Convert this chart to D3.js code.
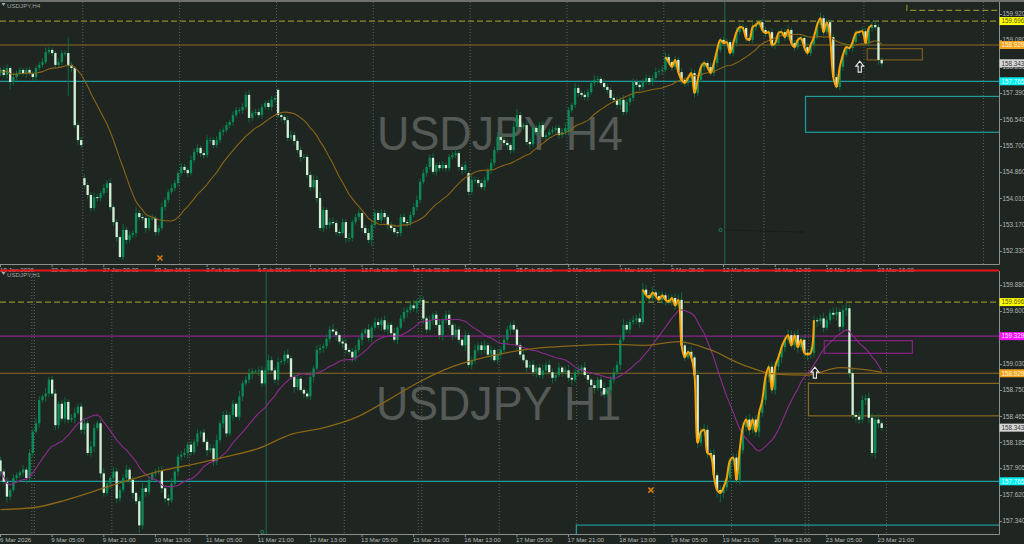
<!DOCTYPE html>
<html><head><meta charset="utf-8">
<script src="https://cdn.jsdelivr.net/npm/d3@7/dist/d3.min.js"></script>
<style>
html,body{margin:0;padding:0;background:#1f2622;overflow:hidden}
svg{display:block;font-family:"Liberation Sans",Arial,sans-serif}
</style></head><body>
<svg id="chart" width="1024" height="544"></svg>
<script>
// ---------------- DATA ----------------
// H4 panel closes (bar 0 = 19 Jan 2026 16:00 ... bar 273 = 23 Mar 20:00)
const topClose = [
158.13,157.97,158.19,157.74,157.90,158.03,158.13,158.03,158.13,158.03,
157.90,158.19,158.29,158.38,158.70,158.77,158.67,158.29,158.38,158.67,
158.67,158.29,158.19,156.36,155.88,155.72,154.44,154.12,153.70,154.05,
154.02,154.18,154.34,154.50,153.73,153.25,152.77,152.13,153.00,152.68,
152.84,152.90,153.54,153.41,153.38,153.06,153.38,153.38,152.93,153.06,
153.73,153.96,154.22,154.34,154.50,154.82,155.02,154.92,154.82,155.24,
155.50,155.63,155.46,155.40,155.88,155.88,155.72,155.88,156.14,156.20,
156.36,156.46,156.68,156.84,156.84,156.94,157.33,156.59,156.75,156.78,
156.68,156.94,157.07,156.94,157.17,157.23,156.68,156.62,156.52,155.95,
156.04,155.85,155.56,155.34,155.34,154.76,154.37,154.60,154.02,153.06,
153.64,153.16,153.25,153.22,152.93,152.90,153.25,152.74,152.74,153.25,
153.41,153.54,153.06,152.90,152.68,153.16,153.54,153.32,153.54,153.41,
153.16,153.06,152.93,152.90,153.41,153.25,153.22,153.48,153.73,153.96,
154.54,154.82,155.02,155.31,154.86,155.08,154.98,155.08,154.98,155.34,
155.40,155.46,155.02,154.92,155.08,154.22,154.60,154.60,154.50,154.37,
154.60,154.92,155.15,155.56,155.98,155.88,155.79,155.72,155.56,156.30,
156.68,156.30,156.36,155.82,155.75,156.27,156.14,156.36,155.98,156.04,
156.14,156.20,156.27,156.04,156.14,156.27,156.84,157.01,157.55,157.39,
157.33,157.26,157.42,157.71,157.81,157.84,157.71,157.58,157.49,157.23,
157.17,157.01,157.17,156.78,157.10,157.23,157.74,157.65,157.58,157.74,
157.87,157.74,157.87,158.06,158.09,158.13,158.54,158.38,158.22,158.45,
158.06,157.81,157.71,157.87,158.03,157.39,157.81,158.22,158.35,158.22,
158.03,158.35,158.77,159.09,158.99,159.02,158.67,158.99,159.34,159.50,
159.47,159.15,159.09,159.50,159.57,159.66,159.41,159.31,159.34,158.93,
158.99,159.31,159.34,159.18,159.41,158.99,158.86,159.09,159.15,158.86,
158.67,158.93,159.18,159.57,159.79,159.34,159.66,159.18,157.90,157.58,
158.22,158.61,158.86,158.83,159.02,159.31,159.34,159.37,158.99,159.47,
159.57,159.50,158.45,158.34];
// wick lengths, in pips (0.01)
const topUpWick = [
8,10,12,6,15,8,10,6,8,10, 6,8,10,12,15,10,8,6,12,10, 8,50,10,6,8,10,12,8,10,15,
10,8,12,10,15,8,10,6,20,10, 12,8,20,10,12,8,10,12,8,10, 15,10,8,12,10,8,12,10,8,15,
10,12,8,10,15,10,8,12,10,8, 10,8,12,10,8,12,10,15,8,10, 12,10,8,10,12,8,6,10,8,12,
15,10,8,12,10,8,10,15,12,20, 10,8,12,15,10,8,12,10,15,8, 10,12,8,10,15,12,10,8,12,10,
8,10,12,8,10,12,8,10,12,15, 10,12,8,10,15,8,10,12,8,10, 12,15,8,10,12,6,15,10,8,12,
10,8,12,10,15,8,10,12,8,15, 20,10,8,12,10,15,8,10,12,8, 10,12,8,10,12,15,10,8,15,10,
8,12,10,8,15,10,8,12,10,8, 12,10,8,15,10,8,12,10,8,10, 12,8,10,15,8,12,15,10,8,12,
10,12,8,10,15,10,8,12,10,8, 12,10,15,8,10,12,8,10,15,12, 10,8,12,15,10,8,12,10,8,12,
10,8,12,10,15,8,10,12,8,10, 12,10,15,12,18,10,12,8,10,12, 10,8,12,10,15,10,8,12,10,8,
12,15,10,8];
const topLoWick = [
10,8,12,25,10,12,8,10,15,8, 12,10,8,10,6,8,10,12,8,10, 10,100,12,8,15,10,8,12,10,8,
12,10,8,15,10,12,15,5,10,12, 8,10,12,10,8,15,10,8,12,10, 8,12,10,8,10,12,8,10,12,8,
10,8,12,10,8,12,10,8,10,12, 8,10,12,8,10,12,8,15,10,8, 10,12,8,10,12,8,10,15,12,10,
8,12,10,15,8,10,12,8,15,10, 12,15,10,8,12,10,8,15,12,10, 8,10,12,8,10,20,10,8,12,10,
15,10,8,12,10,8,12,10,8,12, 10,8,12,10,8,12,10,8,12,10, 8,10,12,15,10,12,8,10,12,8,
10,8,12,10,8,12,10,15,12,8, 10,12,8,10,15,8,10,12,8,10, 12,8,10,12,8,10,12,8,10,12,
8,10,12,8,10,12,8,10,12,8, 10,12,15,10,8,12,10,8,12,10, 8,10,12,8,10,12,8,10,12,8,
10,15,12,10,8,15,10,8,12,10, 8,10,12,8,10,12,8,10,12,8, 10,12,8,10,12,8,10,12,8,10,
12,8,10,12,8,10,12,8,10,12, 8,10,12,8,10,12,8,10,15,5, 10,12,8,10,12,8,10,12,8,10,
12,8,15,10];
const topGapBar  = [0, 26, 86, 145, 176];
const topGapOpen = [158.03, 154.66, 157.49, 154.82, 156.14];

// H1 panel closes (bar 0 = 6 Mar 13:00 ... bar 273 = 23 Mar 22:00)
const botClose = [
157.87,157.76,157.60,157.67,157.80,157.83,157.86,157.89,157.80,158.07,
158.30,158.39,158.64,158.68,158.71,158.86,158.71,158.37,158.60,158.44,
158.62,158.43,158.45,158.50,158.57,158.32,158.39,158.07,158.14,158.34,
158.39,157.85,157.64,157.74,157.80,157.87,157.58,157.67,157.80,157.89,
157.78,157.64,157.55,157.29,157.69,157.65,157.78,157.85,157.87,157.88,
157.69,157.58,157.56,157.74,157.87,158.03,158.05,158.07,158.16,158.08,
158.19,158.28,158.29,158.19,158.10,158.12,157.98,158.21,158.39,158.48,
158.28,158.48,158.60,158.46,158.68,158.82,158.86,158.93,158.95,158.95,
158.96,158.82,158.96,159.07,158.96,158.86,159.05,159.06,159.13,159.09,
158.89,158.78,158.87,158.75,158.71,158.68,158.89,158.98,159.18,159.20,
159.22,159.30,159.40,159.38,159.34,159.27,159.25,159.18,159.16,159.10,
159.18,159.29,159.36,159.40,159.31,159.42,159.48,159.45,159.50,159.40,
159.45,159.36,159.29,159.42,159.52,159.59,159.61,159.66,159.63,159.70,
159.72,159.52,159.40,159.50,159.56,159.45,159.34,159.50,159.56,159.45,
159.34,159.40,159.29,159.23,159.34,159.02,159.07,159.18,159.23,159.18,
159.23,159.13,159.18,159.07,159.13,159.18,159.29,159.40,159.45,159.40,
159.23,159.13,159.07,158.99,159.02,158.94,158.99,158.91,158.96,159.02,
158.94,158.88,158.91,158.99,158.94,158.96,158.88,158.86,158.94,158.96,
158.99,158.91,158.86,158.80,158.77,158.86,158.77,158.70,158.75,158.86,
158.94,159.02,159.29,159.45,159.40,159.48,159.50,159.52,159.48,159.83,
159.77,159.74,159.80,159.76,159.72,159.77,159.72,159.70,159.74,159.66,
159.72,159.23,159.10,159.16,159.10,158.91,158.18,158.30,158.32,158.07,
158.05,157.83,157.67,157.64,157.70,157.80,157.99,158.02,157.78,158.10,
158.35,158.43,158.32,158.43,158.30,158.50,158.64,158.89,159.00,158.75,
159.00,159.10,159.21,159.29,159.34,159.23,159.34,159.21,159.29,159.15,
159.13,159.15,159.50,159.49,159.52,159.42,159.50,159.58,159.56,159.59,
159.43,159.61,159.63,158.93,158.48,158.46,158.43,158.64,158.66,158.45,
158.07,158.43,158.39,158.34];
const botUpWick = [
4,3,5,2,4,3,2,5,3,4, 3,5,4,2,6,3,4,5,3,4, 5,3,4,6,3,4,5,3,6,4, 3,4,6,3,2,5,4,3,4,5,
3,4,2,5,6,3,4,2,3,4, 5,3,4,6,2,3,4,5,3,4, 3,5,2,4,3,5,4,6,3,4, 5,3,4,2,6,3,4,5,3,2,
4,5,3,6,4,3,5,2,4,6, 3,4,5,3,2,4,6,3,5,4, 3,5,4,6,3,2,4,5,3,4, 5,3,4,2,6,3,5,4,3,5,
4,3,6,2,4,5,3,4,6,3, 5,4,3,5,2,4,6,3,4,5, 3,6,4,2,5,3,4,6,3,4, 5,3,4,2,6,3,5,4,3,5,
4,3,6,2,4,5,3,4,6,3, 5,4,3,5,2,4,6,3,4,5, 3,6,4,2,5,3,4,6,3,4, 5,4,3,6,4,3,5,4,6,7,
5,4,6,3,5,4,3,6,4,5, 6,8,5,4,6,3,5,4,6,5, 4,6,3,5,4,6,3,5,4,6, 5,4,6,3,5,4,6,5,3,4,
6,5,4,3,6,5,4,6,3,5, 4,6,5,3,4,6,5,4,6,5, 4,5,6,4,5,3,6,5,4,6, 5,4,6,3];
const botLoWick = [
5,3,6,4,2,5,3,4,6,3, 4,2,5,3,6,4,3,5,4,3, 5,4,3,6,2,4,5,3,4,6, 3,5,4,3,6,2,5,4,3,5,
4,6,3,8,4,5,3,2,4,3, 5,4,6,3,2,5,4,3,6,4, 3,5,4,2,6,3,5,4,3,5, 4,3,6,2,4,5,3,4,6,3,
5,4,3,5,2,4,6,3,4,5, 3,6,4,2,5,3,4,6,3,4, 5,3,4,2,6,3,5,4,3,5, 4,3,6,2,4,5,3,4,6,3,
5,4,3,5,2,4,6,3,4,5, 3,6,4,2,5,3,4,6,3,4, 5,3,4,2,6,3,5,4,3,5, 4,3,6,2,4,5,3,4,6,3,
5,4,3,5,2,4,6,3,4,5, 3,6,4,2,5,3,4,6,3,4, 5,3,4,2,6,3,5,4,3,5, 4,3,6,2,4,5,3,4,6,3,
5,4,3,5,2,4,6,3,4,5, 3,6,4,2,5,3,6,4,5,6, 5,6,8,10,6,4,5,6,4,5, 4,5,6,4,5,6,4,5,6,4,
5,4,6,5,4,3,5,6,4,5, 6,4,5,6,4,5,3,4,5,6, 5,4,6,5,4,6,5,4,5,6, 4,6,5,3];
const botGapBar  = [0];
const botGapOpen = [157.99];

// slow moving average of the H1 panel, read at sample bars
const botSlowBar = [0,10,20,30,40,50,60,70,80,90,100,110,120,130,140,150,160,170,180,190,200,210,220,230,240,250,260,273];
const botSlowVal = [157.46,157.48,157.56,157.67,157.78,157.88,157.95,158.03,158.12,158.27,158.34,158.45,158.64,158.84,159.00,159.10,159.17,159.21,159.23,159.24,159.23,159.27,159.18,159.02,158.92,158.91,158.99,158.94];

// price ticks
const topTicks = [159.920,159.080,158.235,157.390,156.540,155.700,154.860,154.010,153.170,152.330];
const botTicks = [159.880,159.600,159.315,159.030,158.750,158.465,158.185,157.905,157.620,157.340];

// time ticks (bar index + label)
const timeTickBars = [0,16,32,48,64,80,96,112,128,144,160,176,192,208,224,240,256,272];
const topTimeLabels = ["19 Jan 2026","22 Jan 08:00","27 Jan 00:00","29 Jan 16:00","3 Feb 08:00","6 Feb 00:00","10 Feb 16:00","13 Feb 08:00","18 Feb 00:00","20 Feb 16:00","25 Feb 08:00","2 Mar 00:00","4 Mar 16:00","9 Mar 08:00","12 Mar 00:00","16 Mar 12:00","19 Mar 04:00","23 Mar 16:00"];
const botTimeLabels = ["6 Mar 2026","9 Mar 05:00","9 Mar 21:00","10 Mar 13:00","11 Mar 05:00","11 Mar 21:00","12 Mar 13:00","13 Mar 05:00","13 Mar 21:00","16 Mar 13:00","17 Mar 05:00","17 Mar 21:00","18 Mar 13:00","19 Mar 05:00","19 Mar 21:00","20 Mar 13:00","23 Mar 05:00","23 Mar 21:00"];

// period separators (bar positions)
const topSeps = [25.5,55.5,85.5,115.5,145.5,175.5,205.5,236.5,267.5,304.5];
const botSeps = [9.7,10.5,34.5,58.5,106.5,129.4,130.5,154.5,178.5,202.5,226.5,249.3,250.4,274.5];
const topVLineBar = 224.4, botVLineBar = 82.3;

// horizontal levels
const topLevels = [159.696, 158.929, 157.765];
const botLevels = [159.696, 159.329, 158.929, 157.765];
const levelNames = {159.696:"dash",159.329:"mag",158.929:"brn",157.765:"cyan"};

// price tags on axis
const topTagVals = [159.696, 158.929, 158.343, 157.765];
const botTagVals = [159.696, 159.329, 158.929, 158.343, 157.765];

// rectangles [bar0, bar1, priceTop, priceBottom]
const topRectBrown = [268.5, 285.6, 158.81, 158.45];
const topRectCyan  = [249.4, 320, 157.28, 156.13];
const botRectBrown = [250.3, 320, 158.82, 158.47];
const botRectMag   = [255.2, 282.5, 159.28, 159.144];
const botRectCyan  = [178.4, 320, 157.293, 156.9];

// markers
const topArrow = [266.2, 158.22], botArrow = [252.3, 158.93];
const topCross = [49.4, 152.10],  botCross = [201.5, 157.67];
const topCircle = [223.1, 153.00], botCircle = [81.1, 157.22];
const topTrend = [223.1, 153.00, 249.2, 152.93];
const topCorner = [280.8, 160.22, 160.04];

// orange fast line ranges (bars)
const topFastRange = [206, 270];
const botFastRange = [199, 252];

// ---------------- DRAW ----------------
const svg = d3.select('#chart');
const BG = '#1f2622';
svg.append('rect').attr('width',1024).attr('height',544).attr('fill',BG);

const PR = 999;
const x  = d3.scaleLinear().domain([0,273]).range([0.5,881.7]);
const yT = d3.scaleLinear().domain([151.907,160.307]).range([264,2]);
const yB = d3.scaleLinear().domain([157.197,160.031]).range([534,271]);

const defs = svg.append('defs');
defs.append('clipPath').attr('id','clipT').append('rect').attr('x',0).attr('y',2).attr('width',PR).attr('height',262.5);
defs.append('clipPath').attr('id','clipB').append('rect').attr('x',0).attr('y',271.5).attr('width',PR).attr('height',263);

const C = {
  grid:'#5d6360', axis:'#8b8f8d', txt:'#b3b7b4',
  bull:'#0a8c58', bear:'#d4f0d4', wick:'#0f6a3f',
  dash:'#8c8c2a', brn:'#8f6a22', cyan:'#1f9c9c', mag:'#8a2287',
  maBrown:'#8a6516', maMag:'#8e2a8e', fast:'#ffa200'
};

function sma(arr, n){
  return arr.map((_,i)=>d3.mean(arr.slice(Math.max(0,i-n+1), i+1)));
}

function drawPanel(o){
  const y = o.y;
  const g = svg.append('g').attr('clip-path', `url(#${o.clip})`);
  g.append('text').attr('x',o.wm[1]).attr('y',o.wm[2]).text(o.wm[0])
    .attr('font-size',48).attr('fill','#555a57').attr('textLength',o.wm[3]).attr('lengthAdjust','spacingAndGlyphs');
  g.selectAll('line.sep').data(o.seps).join('line')
    .attr('x1',d=>x(d)).attr('x2',d=>x(d)).attr('y1',o.y0).attr('y2',o.y1)
    .attr('stroke',C.grid).attr('stroke-dasharray','1,2').attr('stroke-width',1);
  g.append('line').attr('x1',x(o.vline)).attr('x2',x(o.vline)).attr('y1',o.y0).attr('y2',o.y1)
    .attr('stroke','#1d6a4a').attr('stroke-width',1);
  o.levels.forEach(v=>{
    const k = levelNames[v];
    g.append('line').attr('x1',0).attr('x2',PR).attr('y1',y(v)).attr('y2',y(v))
      .attr('stroke', k==='dash'?C.dash:k==='mag'?C.mag:k==='brn'?C.brn:C.cyan)
      .attr('stroke-width',1.2)
      .attr('stroke-dasharray', k==='dash'?'6,3':null);
  });
  o.rects.forEach(([r,col])=>{
    g.append('rect').attr('x',x(r[0])).attr('y',y(r[2])).attr('width',x(r[1])-x(r[0]))
      .attr('height',y(r[3])-y(r[2])).attr('fill','none').attr('stroke',col).attr('stroke-width',1.2);
  });
  const closes=o.close;
  const data = closes.map((c,i)=>{
    const k=o.gapBar.indexOf(i);
    const op = k>=0 ? o.gapOpen[k] : closes[i-1];
    return {i, o:op, c, h:Math.max(op,c)+o.up[i]*0.01, l:Math.min(op,c)-o.lo[i]*0.01};
  });
  g.selectAll('line.wk').data(data).join('line')
    .attr('x1',d=>x(d.i)).attr('x2',d=>x(d.i)).attr('y1',d=>y(d.h)).attr('y2',d=>y(d.l))
    .attr('stroke',C.wick).attr('stroke-width',1);
  g.selectAll('rect.bd').data(data).join('rect')
    .attr('x',d=>x(d.i)-1.15).attr('width',2.3)
    .attr('y',d=>Math.min(y(d.o),y(d.c)))
    .attr('height',d=>Math.max(1,Math.abs(y(d.o)-y(d.c))))
    .attr('fill',d=>d.c>=d.o?C.bull:C.bear);
  o.mas.forEach(([vals,col,w])=>{
    g.append('path').datum(vals.map((v,i)=>[i,v]))
      .attr('d',d3.line().x(d=>x(d[0])).y(d=>y(d[1])))
      .attr('fill','none').attr('stroke',col).attr('stroke-width',w);
  });
  if(o.slow){
    g.append('path').datum(o.slow[0].map((b,i)=>[b,o.slow[1][i]]))
      .attr('d',d3.line().x(d=>x(d[0])).y(d=>y(d[1])).curve(d3.curveMonotoneX))
      .attr('fill','none').attr('stroke',C.maBrown).attr('stroke-width',1.3);
  }
  const fr = d3.range(o.fast[0], o.fast[1]+1).map(i=>[i,closes[i]]);
  g.append('path').datum(fr)
    .attr('d',d3.line().x(d=>x(d[0])).y(d=>y(d[1])).curve(d3.curveCatmullRom.alpha(0.5)))
    .attr('fill','none').attr('stroke',C.fast).attr('stroke-width',2);
  const ax=x(o.arrow[0]), ay=y(o.arrow[1]);
  g.append('path').attr('transform',`translate(${ax},${ay})`)
    .attr('d','M0,-6 L4,-1 L1.6,-1 L1.6,5 L-1.6,5 L-1.6,-1 L-4,-1 Z')
    .attr('fill',BG).attr('stroke','#e8e8e8').attr('stroke-width',1.1);
  const cx=x(o.cross[0]), cy=y(o.cross[1]);
  g.append('path').attr('d',`M${cx-2.5},${cy-2.5}L${cx+2.5},${cy+2.5}M${cx+2.5},${cy-2.5}L${cx-2.5},${cy+2.5}`)
    .attr('stroke','#d97a10').attr('stroke-width',1.6);
  g.append('circle').attr('cx',x(o.circle[0])).attr('cy',y(o.circle[1])).attr('r',1.6)
    .attr('fill','none').attr('stroke','#1e8a55').attr('stroke-width',0.9);
  return g;
}

const gT = drawPanel({
  y:yT, clip:'clipT', y0:2, y1:264, wm:['USDJPY H4',377,150,246],
  seps:topSeps, vline:topVLineBar, levels:topLevels,
  rects:[[topRectBrown,'#7d5c1c'],[topRectCyan,C.cyan]],
  close:topClose, up:topUpWick, lo:topLoWick, gapBar:topGapBar, gapOpen:topGapOpen,
  mas:[[sma(topClose,20),C.maBrown,1.1]], fast:topFastRange,
  arrow:topArrow, cross:topCross, circle:topCircle
});
gT.append('line').attr('x1',x(topTrend[0])+2).attr('y1',yT(topTrend[1])).attr('x2',x(topTrend[2])).attr('y2',yT(topTrend[3]))
  .attr('stroke','#0c100e').attr('stroke-dasharray','1,1.5').attr('stroke-width',1);
gT.append('path').attr('d',`M${x(topCorner[0])},${yT(topCorner[1])}V${yT(topCorner[2])}H${PR}`)
  .attr('fill','none').attr('stroke',C.dash).attr('stroke-width',1.2).attr('stroke-dasharray','6,3');

const gB = drawPanel({
  y:yB, clip:'clipB', y0:271, y1:534, wm:['USDJPY H1',376,420,245],
  seps:botSeps, vline:botVLineBar, levels:botLevels,
  rects:[[botRectBrown,'#8a6720'],[botRectMag,C.mag],[botRectCyan,C.cyan]],
  close:botClose, up:botUpWick, lo:botLoWick, gapBar:botGapBar, gapOpen:botGapOpen,
  mas:[[sma(botClose,20),C.maMag,1.1]], slow:[botSlowBar,botSlowVal], fast:botFastRange,
  arrow:botArrow, cross:botCross, circle:botCircle
});

// ---------- frames & axes ----------
svg.append('rect').attr('x',0).attr('y',0).attr('width',1024).attr('height',2).attr('fill','#6e716f');
svg.append('line').attr('x1',PR+0.5).attr('x2',PR+0.5).attr('y1',2).attr('y2',264.5).attr('stroke',C.axis);
svg.append('line').attr('x1',0).attr('x2',PR+0.5).attr('y1',264.5).attr('y2',264.5).attr('stroke',C.axis);
svg.append('line').attr('x1',PR+0.5).attr('x2',PR+0.5).attr('y1',271).attr('y2',534.5).attr('stroke',C.axis);
svg.append('line').attr('x1',0).attr('x2',PR+0.5).attr('y1',534.5).attr('y2',534.5).attr('stroke',C.axis);

function priceAxis(y, ticks){
  const a = svg.append('g');
  a.selectAll('line').data(ticks).join('line')
    .attr('x1',PR).attr('x2',PR+3).attr('y1',d=>Math.round(y(d))+0.5).attr('y2',d=>Math.round(y(d))+0.5).attr('stroke',C.axis);
  a.selectAll('text').data(ticks).join('text')
    .attr('x',PR+3.5).attr('y',d=>y(d)+2.2).text(d=>d.toFixed(3))
    .attr('font-size',6.3).attr('fill',C.txt);
}
priceAxis(yT, topTicks);
priceAxis(yB, botTicks);

const tagCol = {159.696:['#ffff00','#55550a'],158.929:['#f5a31e','#fff3d6'],158.343:['#d6d6d6','#3a3a3a'],157.765:['#00f0f0','#e6ffff'],159.329:['#ff10ff','#ffe0ff']};
function tags(y, vals){
  const t = svg.append('g');
  vals.forEach(v=>{
    t.append('rect').attr('x',PR+0.5).attr('y',y(v)-4).attr('width',24.5).attr('height',8).attr('fill',tagCol[v][0]);
    t.append('text').attr('x',PR+2.5).attr('y',y(v)+2.3).text(v.toFixed(3)).attr('font-size',6.3).attr('fill',tagCol[v][1]);
  });
}
tags(yT, topTagVals);
tags(yB, botTagVals);

function timeAxis(yAxis, labels){
  const a = svg.append('g');
  a.selectAll('line').data(timeTickBars).join('line')
    .attr('x1',d=>x(d)).attr('x2',d=>x(d)).attr('y1',yAxis).attr('y2',yAxis+2.5).attr('stroke',C.axis);
  a.selectAll('text').data(labels).join('text')
    .attr('x',(d,i)=>i===0?0:x(timeTickBars[i])-1).attr('y',yAxis+7.3).text(d=>d)
    .attr('font-size',6.2).attr('fill',C.txt);
}
timeAxis(264.5, topTimeLabels);
timeAxis(534.5, botTimeLabels);

svg.append('rect').attr('x',0).attr('y',269.5).attr('width',PR).attr('height',2).attr('fill','#e8141c');

[['USDJPY,H4',7.5],['USDJPY,H1',276.5]].forEach(([t,yy])=>{
  svg.append('path').attr('d',`M1.5,${yy-4.5}L5.5,${yy-4.5}L3.5,${yy-1.5}Z`).attr('fill','#a8aca9');
  svg.append('text').attr('x',7).attr('y',yy).text(t).attr('font-size',6.2).attr('fill','#9ea29f');
});
</script>
</body></html>
